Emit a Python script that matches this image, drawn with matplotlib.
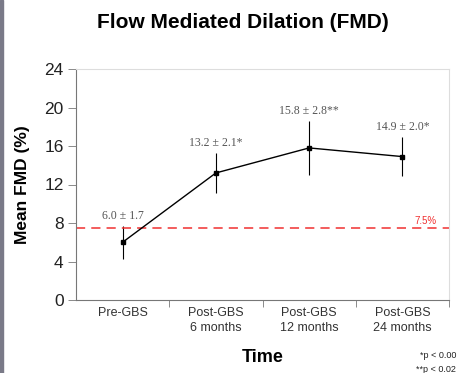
import matplotlib.pyplot as plt
from matplotlib.patches import Rectangle

plt.rcParams["font.family"] = ["Liberation Sans", "DejaVu Sans"]

categories = ["Pre-GBS", "Post-GBS\n6 months", "Post-GBS\n12 months", "Post-GBS\n24 months"]
fmd_mean = [6.0, 13.2, 15.8, 14.9]
fmd_err = [1.7, 2.1, 2.8, 2.0]
labels = ["6.0 \u00b1 1.7", "13.2 \u00b1 2.1*", "15.8 \u00b1 2.8**", "14.9 \u00b1 2.0*"]
threshold = 7.5

fig = plt.figure(figsize=(4.61, 3.73), dpi=100)
ax = fig.add_axes([76 / 461, 1 - 300 / 373, 373 / 461, 231 / 373])

x = list(range(len(categories)))
ax.errorbar(x, fmd_mean, yerr=fmd_err, color="black", lw=1.0, elinewidth=0.8,
            marker="s", markersize=3.5, capsize=0)
ax.axhline(threshold, color="#f03030", ls=(0, (6, 4)), lw=1.1)
ax.text(3.25, threshold + 0.15, "7.5%", color="#f03030", fontsize=7, ha="center", va="bottom")

for xi, m, e, lab in zip(x, fmd_mean, fmd_err, labels):
    ax.text(xi, m + e + 0.4, lab, family="Liberation Serif", fontsize=8.5, color="#555555",
            ha="center", va="bottom")

ax.set_xlim(-0.5, 3.5)
ax.set_ylim(0, 24)
ax.set_yticks([0, 4, 8, 12, 16, 20, 24])
ax.set_xticks(x)
ax.set_xticklabels(categories, fontsize=9, color="#333333", linespacing=1.3)
ax.set_xticks([0.5, 1.5, 2.5, 3.5], minor=True)
ax.tick_params(axis="x", which="major", length=0, pad=5)
ax.tick_params(axis="x", which="minor", length=5, width=0.6, color="#777777")
ax.tick_params(axis="y", length=6, width=0.6, color="#777777", labelcolor="#222222",
               labelsize=12.5, pad=3)

for s in ["left", "bottom"]:
    ax.spines[s].set_color("#777777")
    ax.spines[s].set_linewidth(0.8)
for s in ["top", "right"]:
    ax.spines[s].set_color("#dddddd")
    ax.spines[s].set_linewidth(0.8)

ax.set_ylabel("Mean FMD (%)", fontsize=12.5, fontweight="bold", labelpad=10)
fig.text(263 / 461, 1 - 357 / 373, "Time", fontsize=13, fontweight="bold", ha="center", va="center")
fig.text(243 / 461, 1 - 22 / 373, "Flow Mediated Dilation (FMD)", fontsize=15, fontweight="bold",
         ha="center", va="center")
fig.text(420 / 461, 1 - 356 / 373, "*p < 0.00", fontsize=6.5, ha="left", va="center", color="#222222")
fig.text(416 / 461, 1 - 370 / 373, "**p < 0.02", fontsize=6.5, ha="left", va="center", color="#222222")

fig.patches.append(Rectangle((0, 0), 3 / 461, 1, transform=fig.transFigure,
                             color="#7a7a88", zorder=5))

plt.savefig("out.png", dpi=100)
